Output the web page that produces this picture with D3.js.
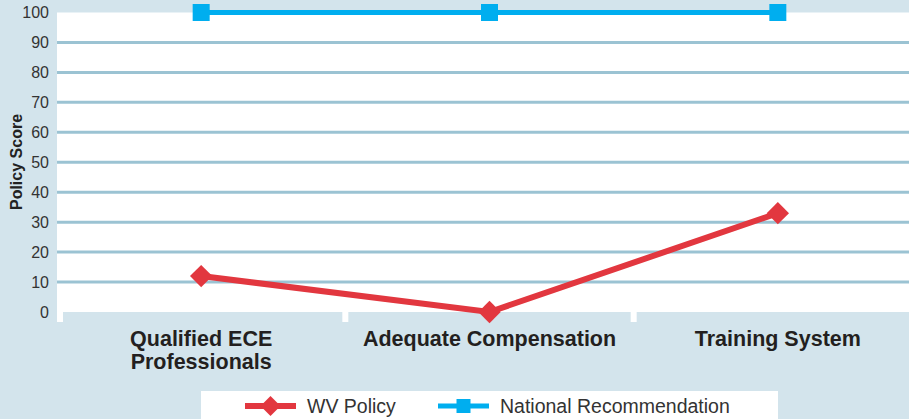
<!DOCTYPE html>
<html>
<head>
<meta charset="utf-8">
<script src="https://cdn.jsdelivr.net/npm/d3@7"></script>
<style>
  body { margin: 0; background: #d3e4ec; }
  svg { display: block; font-family: "Liberation Sans", Arial, sans-serif; }
</style>
</head>
<body>
<svg id="chart" width="909" height="419"></svg>
<script>
// chart data
const categories = [["Qualified ECE", "Professionals"], ["Adequate Compensation"], ["Training System"]];
const wvPolicy = [12, 0, 33];
const nationalRec = [100, 100, 100];
const yTicks = [0, 10, 20, 30, 40, 50, 60, 70, 80, 90, 100];
const seriesNames = ["WV Policy", "National Recommendation"];

const red = "#e2373f";
const blue = "#00aeef";
const grid = "#9bc3d3";
const bg = "#d3e4ec";

const svg = d3.select("#chart");
const keys = categories.map(c => c.join(" "));

const x = d3.scaleBand()
  .domain(keys)
  .range([57, 922]);

const y = d3.scaleLinear()
  .domain([0, 100])
  .range([312, 12.5]);

svg.append("rect")
  .attr("width", 909).attr("height", 419)
  .attr("fill", bg);

// white plot area
svg.append("rect")
  .attr("x", x.range()[0])
  .attr("y", y(100))
  .attr("width", 909 - x.range()[0])
  .attr("height", y(0) - y(100))
  .attr("fill", "#fff");

// gridlines
svg.selectAll(".grid")
  .data(yTicks.filter(d => d > 0 && d < 100))
  .enter().append("line")
  .attr("x1", x.range()[0]).attr("x2", 909)
  .attr("y1", d => y(d)).attr("y2", d => y(d))
  .attr("stroke", grid)
  .attr("stroke-width", 3);

// white category ticks below zero
svg.selectAll(".ctick")
  .data(keys)
  .enter().append("rect")
  .attr("x", (d, i) => i === 0 ? x(d) : x(d) - 3)
  .attr("y", y(0) - 1)
  .attr("width", 6)
  .attr("height", 11)
  .attr("fill", "#fff");

// y tick labels
svg.selectAll(".ylab")
  .data(yTicks)
  .enter().append("text")
  .attr("x", 49)
  .attr("y", d => y(d))
  .attr("dy", "0.35em")
  .attr("text-anchor", "end")
  .attr("font-size", 16)
  .attr("fill", "#333")
  .text(d => d);

svg.append("text")
  .attr("transform", "translate(22,162) rotate(-90)")
  .attr("text-anchor", "middle")
  .attr("font-size", 16)
  .attr("font-weight", "bold")
  .attr("fill", "#222")
  .text("Policy Score");

// category labels
const catLab = svg.selectAll(".cat")
  .data(categories)
  .enter().append("text")
  .attr("text-anchor", "middle")
  .attr("font-size", 21.5)
  .attr("font-weight", "bold")
  .attr("fill", "#231f20");
catLab.selectAll("tspan")
  .data((d, i) => d.map(t => ({ t, k: keys[i] })))
  .enter().append("tspan")
  .attr("x", d => x(d.k) + x.bandwidth() / 2)
  .attr("y", (d, j) => 346 + j * 23)
  .text(d => d.t);

const cx = (d, i) => x(keys[i]) + x.bandwidth() / 2;
const line = d3.line().x(cx).y(d => y(d));

// National recommendation
svg.append("path")
  .datum(nationalRec)
  .attr("d", line)
  .attr("fill", "none")
  .attr("stroke", blue)
  .attr("stroke-width", 5);
svg.selectAll(".sq")
  .data(nationalRec)
  .enter().append("path")
  .attr("d", d3.symbol(d3.symbolSquare, 289))
  .attr("transform", (d, i) => `translate(${cx(d, i)},${y(d)})`)
  .attr("fill", blue);

// WV policy
svg.append("path")
  .datum(wvPolicy)
  .attr("d", line)
  .attr("fill", "none")
  .attr("stroke", red)
  .attr("stroke-width", 6);
svg.selectAll(".dia")
  .data(wvPolicy)
  .enter().append("path")
  .attr("d", d3.symbol(d3.symbolSquare, 250))
  .attr("transform", (d, i) => `translate(${cx(d, i)},${y(d)}) rotate(45)`)
  .attr("fill", red);

// legend
const legend = svg.append("g");
legend.append("rect")
  .attr("x", 201).attr("y", 391)
  .attr("width", 577).attr("height", 30)
  .attr("fill", "#fff");

const legItems = [
  { name: seriesNames[0], color: red, x0: 245, tx: 307, sym: d3.symbol(d3.symbolSquare, 200), rot: 45, w: 6 },
  { name: seriesNames[1], color: blue, x0: 438, tx: 500, sym: d3.symbol(d3.symbolSquare, 196), rot: 0, w: 5 }
];
legItems.forEach(it => {
  legend.append("line")
    .attr("x1", it.x0).attr("x2", it.x0 + 51)
    .attr("y1", 406).attr("y2", 406)
    .attr("stroke", it.color).attr("stroke-width", it.w);
  legend.append("path")
    .attr("d", it.sym)
    .attr("transform", `translate(${it.x0 + 25.5},406) rotate(${it.rot})`)
    .attr("fill", it.color);
  legend.append("text")
    .attr("x", it.tx).attr("y", 413)
    .attr("font-size", 19.5)
    .attr("fill", "#333")
    .text(it.name);
});
</script>
</body>
</html>
